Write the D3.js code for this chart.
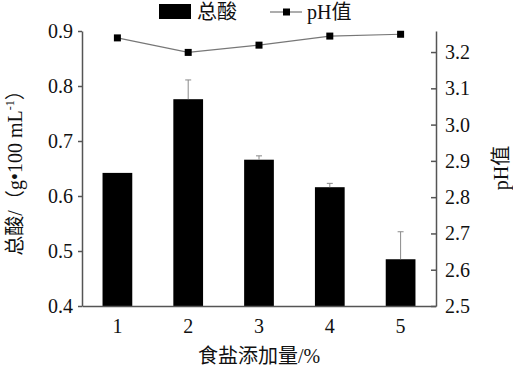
<!DOCTYPE html>
<html>
<head>
<meta charset="utf-8">
<script src="https://cdn.jsdelivr.net/npm/d3@7"></script>
<style>
  body { margin: 0; background: #fff; }
  svg text { font-family: "Liberation Serif", "Noto Sans CJK SC", serif; }
</style>
</head>
<body>
<div id="chart-holder"></div>
<script>
// data
var categories = ["1", "2", "3", "4", "5"];
var totalAcid = [0.642, 0.776, 0.666, 0.616, 0.485];
var acidErr = [0, 0.035, 0.007, 0.007, 0.050];
var phValues = [3.239, 3.199, 3.219, 3.244, 3.249];
var leftTicks = [0.4, 0.5, 0.6, 0.7, 0.8, 0.9];
var rightTicks = [2.5, 2.6, 2.7, 2.8, 2.9, 3.0, 3.1, 3.2];

var W = 513, H = 373;
var margin = { top: 31, right: 77, bottom: 67, left: 82 };
var width = W - margin.left - margin.right,
  height = H - margin.top - margin.bottom;
var serif = "'Liberation Serif', 'Noto Sans CJK SC', serif";

var svg = d3.select("#chart-holder").append("svg")
  .attr("width", W)
  .attr("height", H);
var g = svg.append("g")
  .attr("transform", "translate(" + margin.left + "," + margin.top + ")");

// scales
var x = d3.scaleBand().domain(categories).range([0, width]).paddingInner(0.58).paddingOuter(0.29);
var y = d3.scaleLinear().domain([0.4, 0.9]).range([height, 0]);
var y2 = d3.scaleLinear().domain([2.5, 3.258]).range([height, 0]);

// bars
g.selectAll(".bar")
  .data(totalAcid)
  .enter()
  .append("rect")
  .attr("x", function (d, i) { return x(categories[i]); })
  .attr("y", function (d) { return y(d); })
  .attr("width", x.bandwidth())
  .attr("height", function (d) { return height - y(d); })
  .attr("fill", "#000");

// error bars (upper only)
var err = g.selectAll(".err")
  .data(totalAcid)
  .enter()
  .append("g")
  .attr("stroke", "#8a8a8a")
  .attr("stroke-width", 1);
err.append("line")
  .attr("x1", function (d, i) { return x(categories[i]) + x.bandwidth() / 2; })
  .attr("x2", function (d, i) { return x(categories[i]) + x.bandwidth() / 2; })
  .attr("y1", function (d) { return y(d); })
  .attr("y2", function (d, i) { return y(d + acidErr[i]); });
err.append("line")
  .attr("x1", function (d, i) { return x(categories[i]) + x.bandwidth() / 2 - 3; })
  .attr("x2", function (d, i) { return x(categories[i]) + x.bandwidth() / 2 + 3; })
  .attr("y1", function (d, i) { return y(d + acidErr[i]); })
  .attr("y2", function (d, i) { return y(d + acidErr[i]); })
  .style("display", function (d, i) { return acidErr[i] > 0 ? null : "none"; });

// pH line
var valueline = d3.line()
  .x(function (d, i) { return x(categories[i]) + x.bandwidth() / 2; })
  .y(function (d) { return y2(d); });
g.append("path")
  .datum(phValues)
  .attr("d", valueline)
  .attr("fill", "none")
  .attr("stroke", "#777")
  .attr("stroke-width", 1.2);
g.selectAll(".pt")
  .data(phValues)
  .enter()
  .append("rect")
  .attr("x", function (d, i) { return x(categories[i]) + x.bandwidth() / 2 - 3.5; })
  .attr("y", function (d) { return y2(d) - 3.5; })
  .attr("width", 7)
  .attr("height", 7)
  .attr("fill", "#000");

// axes
var fmt1 = d3.format(".1f");
var leftAxis = g.append("g")
  .call(d3.axisLeft(y).tickValues(leftTicks).tickFormat(fmt1).tickSize(4).tickSizeOuter(0));
var rightAxis = g.append("g")
  .attr("transform", "translate(" + width + ",0)")
  .call(d3.axisRight(y2).tickValues(rightTicks).tickFormat(fmt1).tickSize(0).tickSizeOuter(0));
rightAxis.selectAll(".tick line").attr("x1", -5).attr("x2", 0);
var bottomAxis = g.append("g")
  .attr("transform", "translate(0," + height + ")")
  .call(d3.axisBottom(x).tickSize(0).tickSizeOuter(0));

[leftAxis, rightAxis, bottomAxis].forEach(function (a) {
  a.attr("font-family", serif).attr("font-size", 20);
  a.selectAll("path, line").attr("stroke", "#555").attr("stroke-width", 1.5);
  a.selectAll("text").attr("fill", "#111").style("font-family", serif).style("font-size", "20px");
});
leftAxis.selectAll("text").attr("x", -9);
rightAxis.selectAll("text").attr("x", 9);
bottomAxis.selectAll("text").attr("dy", "1.2em");

// axis titles
svg.append("text")
  .attr("transform", "translate(22,168) rotate(-90)")
  .attr("text-anchor", "middle")
  .attr("font-size", 20)
  .attr("fill", "#111")
  .html('总酸/（g•100 mL<tspan font-size="12" dy="-8">-1</tspan><tspan dy="8">）</tspan>');
svg.append("text")
  .attr("transform", "translate(508,168) rotate(-90)")
  .attr("text-anchor", "middle")
  .attr("font-size", 20)
  .attr("fill", "#111")
  .text("pH值");
svg.append("text")
  .attr("x", margin.left + width / 2)
  .attr("y", 363)
  .attr("text-anchor", "middle")
  .attr("font-size", 20)
  .attr("fill", "#111")
  .text("食盐添加量/%");

// legend
var legend = svg.append("g");
legend.append("rect").attr("x", 159).attr("y", 4).attr("width", 32).attr("height", 15).attr("fill", "#000");
legend.append("text").attr("x", 197).attr("y", 19).attr("font-size", 20).attr("fill", "#111").text("总酸");
legend.append("line").attr("x1", 270).attr("x2", 302).attr("y1", 12).attr("y2", 12)
  .attr("stroke", "#777").attr("stroke-width", 1.2);
legend.append("rect").attr("x", 283).attr("y", 8.5).attr("width", 7).attr("height", 7).attr("fill", "#000");
legend.append("text").attr("x", 307).attr("y", 19).attr("font-size", 20).attr("fill", "#111").text("pH值");
</script>
</body>
</html>
